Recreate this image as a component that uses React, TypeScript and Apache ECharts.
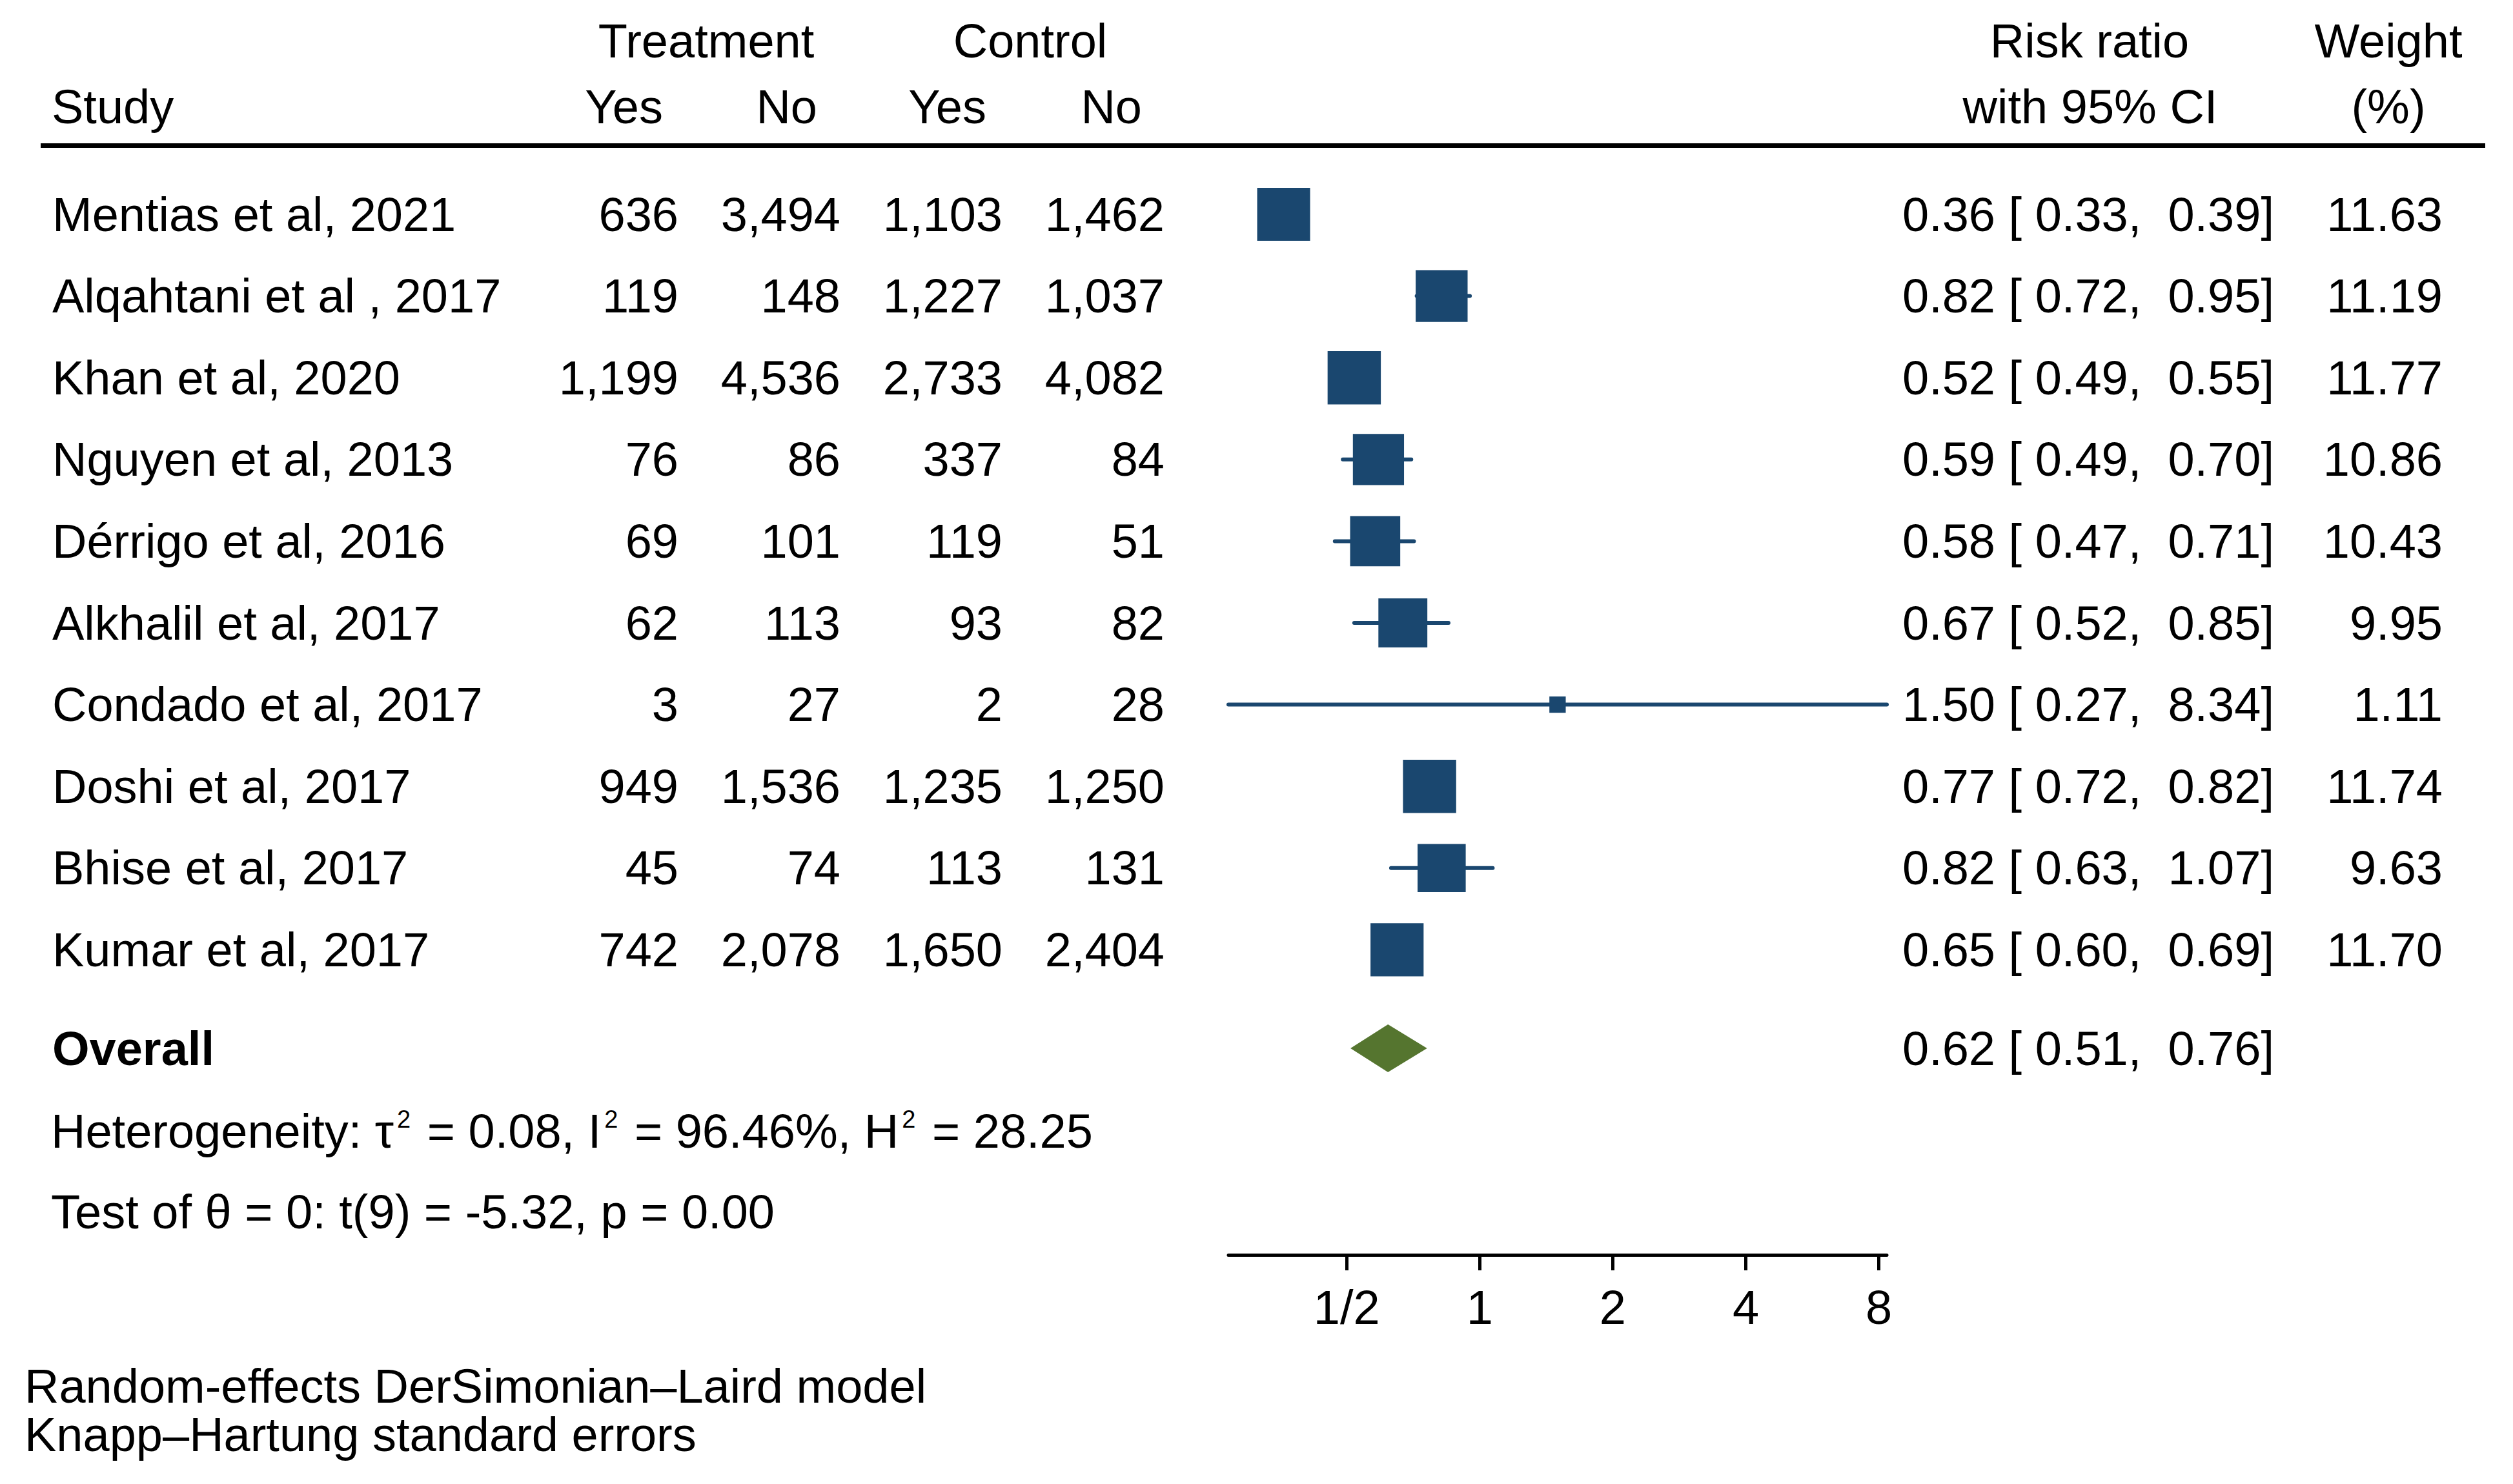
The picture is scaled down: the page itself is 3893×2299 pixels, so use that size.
import React, { useEffect, useRef } from "react";
import * as echarts from "echarts";

// ---------- data ----------
const studies = [
  "Mentias et al, 2021",
  "Alqahtani et al , 2017",
  "Khan et al, 2020",
  "Nguyen et al, 2013",
  "Dérrigo et al, 2016",
  "Alkhalil et al, 2017",
  "Condado et al, 2017",
  "Doshi et al, 2017",
  "Bhise et al, 2017",
  "Kumar et al, 2017",
];
const treatYes = [636, 119, 1199, 76, 69, 62, 3, 949, 45, 742];
const treatNo = [3494, 148, 4536, 86, 101, 113, 27, 1536, 74, 2078];
const ctrlYes = [1103, 1227, 2733, 337, 119, 93, 2, 1235, 113, 1650];
const ctrlNo = [1462, 1037, 4082, 84, 51, 82, 28, 1250, 131, 2404];
const riskRatio = [0.36, 0.82, 0.52, 0.59, 0.58, 0.67, 1.5, 0.77, 0.82, 0.65];
const ciLow = [0.33, 0.72, 0.49, 0.49, 0.47, 0.52, 0.27, 0.72, 0.63, 0.6];
const ciHigh = [0.39, 0.95, 0.55, 0.7, 0.71, 0.85, 8.34, 0.82, 1.07, 0.69];
const weights = [11.63, 11.19, 11.77, 10.86, 10.43, 9.95, 1.11, 11.74, 9.63, 11.7];
const overallLabel = "Overall";
const overallRR = 0.62;
const overallLow = 0.51;
const overallHigh = 0.76;
const tickValues = [0.5, 1, 2, 4, 8];
const tickLabels = ["1/2", "1", "2", "4", "8"];
const heterogeneityRich =
  "Heterogeneity: τ{s|2} = 0.08, I{s|2} = 96.46%, H{s|2} = 28.25";
const testText = "Test of θ = 0: t(9) = -5.32, p = 0.00";
const footnotes = ["Random-effects DerSimonian–Laird model", "Knapp–Hartung standard errors"];

// ---------- layout ----------
const W = 3893;
const H = 2299;
const FONT = '"Liberation Sans", Arial, Helvetica, sans-serif';
const FS = 74;
const ROW_Y0 = 332;
const PITCH = 126.6;
const AXIS_Y = 1944;
const Y_MIN = -1;
const Y_MAX = (AXIS_Y - ROW_Y0) / PITCH;
const GRID_TOP = ROW_Y0 - PITCH;
const GRID_H = AXIS_Y - GRID_TOP;
const OVERALL_ROW = (1624 - ROW_Y0) / PITCH;
const PLOT_LEFT = 1903;
const PLOT_RIGHT = 2923;
const COL = { name: 81, tY: 1051, tN: 1302, cY: 1553, cN: 1804, ci: 2947, w: 3784 };
const BLUE = "#1a476f";
const GREEN = "#55752f";
const BOX_K = 24.04;

const fmtInt = (v: number) => v.toLocaleString("en-US");
const fmtCI = (r: number, l: number, h: number) =>
  `${r.toFixed(2)} [ ${l.toFixed(2)}, \u00A0${h.toFixed(2)}]`;

export default function App() {
  const ref = useRef<HTMLDivElement>(null);
  useEffect(() => {
    document.body.style.margin = "0";
    const chart = echarts.init(ref.current!, null, { renderer: "svg" });

    const txt = (text: string, x: number, y: number, align: string, extra: any = {}) => ({
      type: "text",
      x,
      y,
      silent: true,
      style: {
        text,
        fill: "#000",
        fontSize: FS,
        fontFamily: FONT,
        align,
        verticalAlign: "middle",
        ...extra,
      },
    });

    const tableRows = studies.map((_, i) => [0, i, i]);
    tableRows.push([0, OVERALL_ROW, -1]);

    const option: any = {
      animation: false,
      backgroundColor: "#fff",
      grid: [
        { left: 0, top: GRID_TOP, width: W, height: GRID_H, outerBoundsMode: "none" },
        {
          left: PLOT_LEFT,
          top: GRID_TOP,
          width: PLOT_RIGHT - PLOT_LEFT,
          height: GRID_H,
          outerBoundsMode: "none",
        },
      ],
      xAxis: [
        { gridIndex: 0, type: "value", min: 0, max: W, show: false },
        {
          gridIndex: 1,
          type: "value",
          min: Math.log2(Math.min(...ciLow)),
          max: Math.log2(Math.max(...ciHigh)),
          position: "bottom",
          splitLine: { show: false },
          axisLine: { show: true, onZero: false, lineStyle: { color: "#000", width: 5 } },
          axisTick: {
            show: true,
            customValues: tickValues.map((v) => Math.log2(v)),
            length: 24,
            lineStyle: { color: "#000", width: 5 },
          },
          axisLabel: {
            show: true,
            customValues: tickValues.map((v) => Math.log2(v)),
            formatter: (v: number) => {
              const k = tickValues.findIndex((t) => Math.abs(Math.log2(t) - v) < 1e-6);
              return k >= 0 ? tickLabels[k] : "";
            },
            color: "#000",
            fontSize: FS,
            fontFamily: FONT,
            margin: 44,
          },
        },
      ],
      yAxis: [
        { gridIndex: 0, type: "value", inverse: true, min: Y_MIN, max: Y_MAX, show: false },
        { gridIndex: 1, type: "value", inverse: true, min: Y_MIN, max: Y_MAX, show: false },
      ],
      series: [
        {
          type: "custom",
          name: "table",
          xAxisIndex: 0,
          yAxisIndex: 0,
          silent: true,
          data: tableRows,
          encode: { x: 0, y: 1 },
          renderItem: (params: any, api: any) => {
            const idx = api.value(2);
            const row = api.value(1);
            const y = api.coord([0, row])[1];
            const px = (v: number) => api.coord([v, row])[0];
            if (idx < 0) {
              return {
                type: "group",
                children: [
                  txt(overallLabel, px(COL.name), y, "left", { fontWeight: "bold" }),
                  txt(fmtCI(overallRR, overallLow, overallHigh), px(COL.ci), y, "left"),
                ],
              };
            }
            return {
              type: "group",
              children: [
                txt(studies[idx], px(COL.name), y, "left"),
                txt(fmtInt(treatYes[idx]), px(COL.tY), y, "right"),
                txt(fmtInt(treatNo[idx]), px(COL.tN), y, "right"),
                txt(fmtInt(ctrlYes[idx]), px(COL.cY), y, "right"),
                txt(fmtInt(ctrlNo[idx]), px(COL.cN), y, "right"),
                txt(fmtCI(riskRatio[idx], ciLow[idx], ciHigh[idx]), px(COL.ci), y, "left"),
                txt(weights[idx].toFixed(2), px(COL.w), y, "right"),
              ],
            };
          },
        },
        {
          type: "custom",
          name: "ci",
          xAxisIndex: 1,
          yAxisIndex: 1,
          silent: true,
          data: studies.map((_, i) => [Math.log2(ciLow[i]), Math.log2(ciHigh[i]), i]),
          encode: { x: [0, 1], y: 2 },
          renderItem: (params: any, api: any) => {
            const p1 = api.coord([api.value(0), api.value(2)]);
            const p2 = api.coord([api.value(1), api.value(2)]);
            return {
              type: "line",
              shape: { x1: p1[0], y1: p1[1], x2: p2[0], y2: p2[1] },
              style: { stroke: BLUE, lineWidth: 6, lineCap: "round" },
            };
          },
        },
        {
          type: "scatter",
          name: "studies",
          xAxisIndex: 1,
          yAxisIndex: 1,
          silent: true,
          symbol: "rect",
          symbolSize: (v: number[]) => BOX_K * Math.sqrt(v[2]),
          itemStyle: { color: BLUE, opacity: 1 },
          data: studies.map((_, i) => [Math.log2(riskRatio[i]), i, weights[i]]),
        },
        {
          type: "custom",
          name: "overall",
          xAxisIndex: 1,
          yAxisIndex: 1,
          silent: true,
          data: [[Math.log2(overallLow), Math.log2(overallRR), Math.log2(overallHigh), OVERALL_ROW]],
          encode: { x: [0, 1, 2], y: 3 },
          renderItem: (params: any, api: any) => {
            const row = api.value(3);
            const l = api.coord([api.value(0), row]);
            const c = api.coord([api.value(1), row]);
            const r = api.coord([api.value(2), row]);
            const hh = 37;
            return {
              type: "polygon",
              shape: {
                points: [
                  [l[0], l[1]],
                  [c[0], c[1] - hh],
                  [r[0], r[1]],
                  [c[0], c[1] + hh],
                ],
              },
              style: { fill: GREEN },
            };
          },
        },
      ],
      graphic: [
        txt("Treatment", 1094, 63, "center"),
        txt("Control", 1596, 63, "center"),
        txt("Risk ratio", 3237, 63, "center"),
        txt("Weight", 3700, 63, "center"),
        txt("Study", 80, 165, "left"),
        txt("Yes", 1027, 165, "right"),
        txt("No", 1266, 165, "right"),
        txt("Yes", 1528, 165, "right"),
        txt("No", 1769, 165, "right"),
        txt("with 95% CI", 3238, 165, "center"),
        txt("(%)", 3700, 165, "center"),
        {
          type: "line",
          silent: true,
          shape: { x1: 63, y1: 225.5, x2: 3850, y2: 225.5 },
          style: { stroke: "#000", lineWidth: 7 },
        },
        txt(heterogeneityRich, 79, 1752, "left", {
          lineHeight: FS,
          rich: {
            s: {
              fontSize: 38,
              fontFamily: FONT,
              fill: "#000",
              lineHeight: 16,
              verticalAlign: "top",
              padding: [0, 5, 0, 5],
            },
          },
        }),
        txt(testText, 79, 1877, "left"),
        txt(footnotes[0], 38, 2147, "left"),
        txt(footnotes[1], 38, 2222, "left"),
      ],
    };
    chart.setOption(option);
    return () => chart.dispose();
  }, []);
  return <div ref={ref} style={{ width: W, height: H }} />;
}
